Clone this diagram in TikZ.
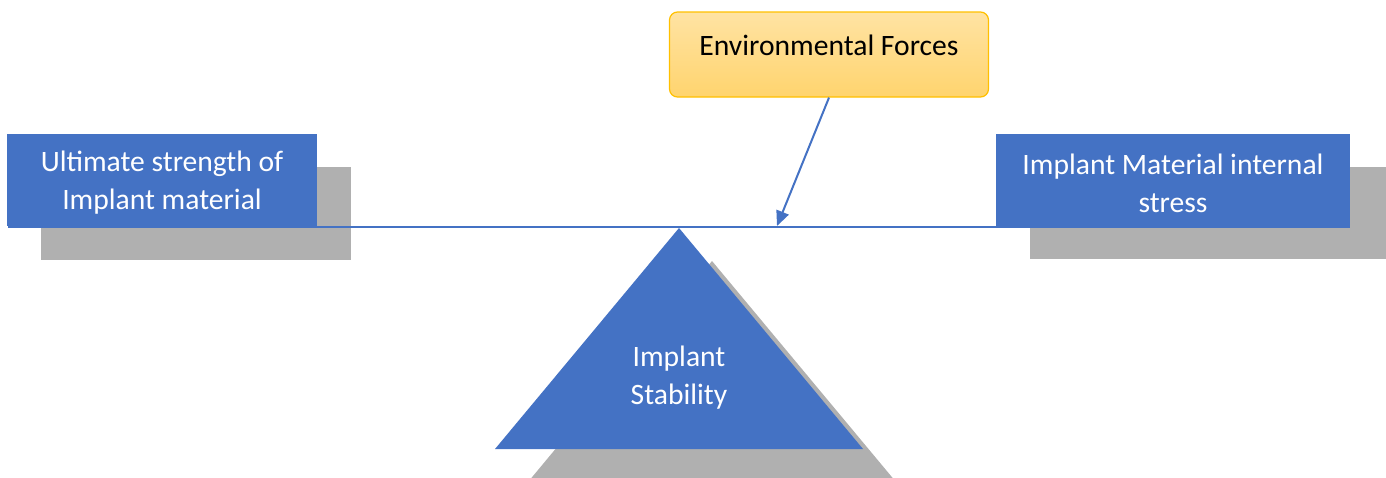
\documentclass[tikz,border=0pt]{standalone}
\usepackage{fontspec}
\setmainfont{Carlito}
\usetikzlibrary{arrows.meta}
\definecolor{blu}{HTML}{4472C4}
\definecolor{shad}{HTML}{B0B0B0}
\definecolor{gtop}{HTML}{FFE3A3}
\definecolor{gbot}{HTML}{FFD46E}
\definecolor{gold}{HTML}{FFC000}
\tikzset{
  txt/.style={font=\fontsize{29.6}{38}\selectfont, align=center, inner sep=0pt},
  bluebox/.style={fill=blu, draw=none, inner sep=0pt, text=white},
  link/.style={draw=blu, line width=2.2pt},
}
\begin{document}
\begin{tikzpicture}[x=1pt,y=-1pt]
\useasboundingbox (0,0) rectangle (1386,477);
\clip (0,0) rectangle (1386,477);
% shadows
\fill[shad] (41,167) rectangle (351,260);
\fill[shad] (1030,167) rectangle (1386,259);
\fill[shad] (712,261) -- (528,482) -- (896,482) -- cycle;
% beam
\coordinate (bl) at (8,227);
\coordinate (br) at (1350,227);
\draw[link] (bl) -- (br);
% boxes
\node[bluebox, minimum width=310pt, minimum height=92pt] (left) at (162,180) {};
\node[txt, text=white] (lefttxt) at (162,183) {Ultimate strength of\\Implant material};
\node[bluebox, minimum width=354pt, minimum height=92pt] (right) at (1173,180) {};
\node[txt, text=white] (righttxt) at (1173,183) {Implant Material internal\\stress};
% triangle
\fill[blu] (679,228) -- (495,449) -- (863,449) -- cycle;
\node[txt, text=white] (stab) at (679,378) {Implant\\Stability};
% env box
\node[draw=gold, line width=1.2pt, rounded corners=8pt, top color=gtop, bottom color=gbot,
      minimum width=319pt, minimum height=85pt, inner sep=0pt] (env) at (829,54.5) {};
\node[txt, text=black] (envtxt) at (829,45) {Environmental Forces};
% arrow
\coordinate (hit) at (777,226);
\draw[link, line width=2pt, -{Triangle[length=15pt,width=13pt]}] (env.south) -- (hit);
\end{tikzpicture}
\end{document}
